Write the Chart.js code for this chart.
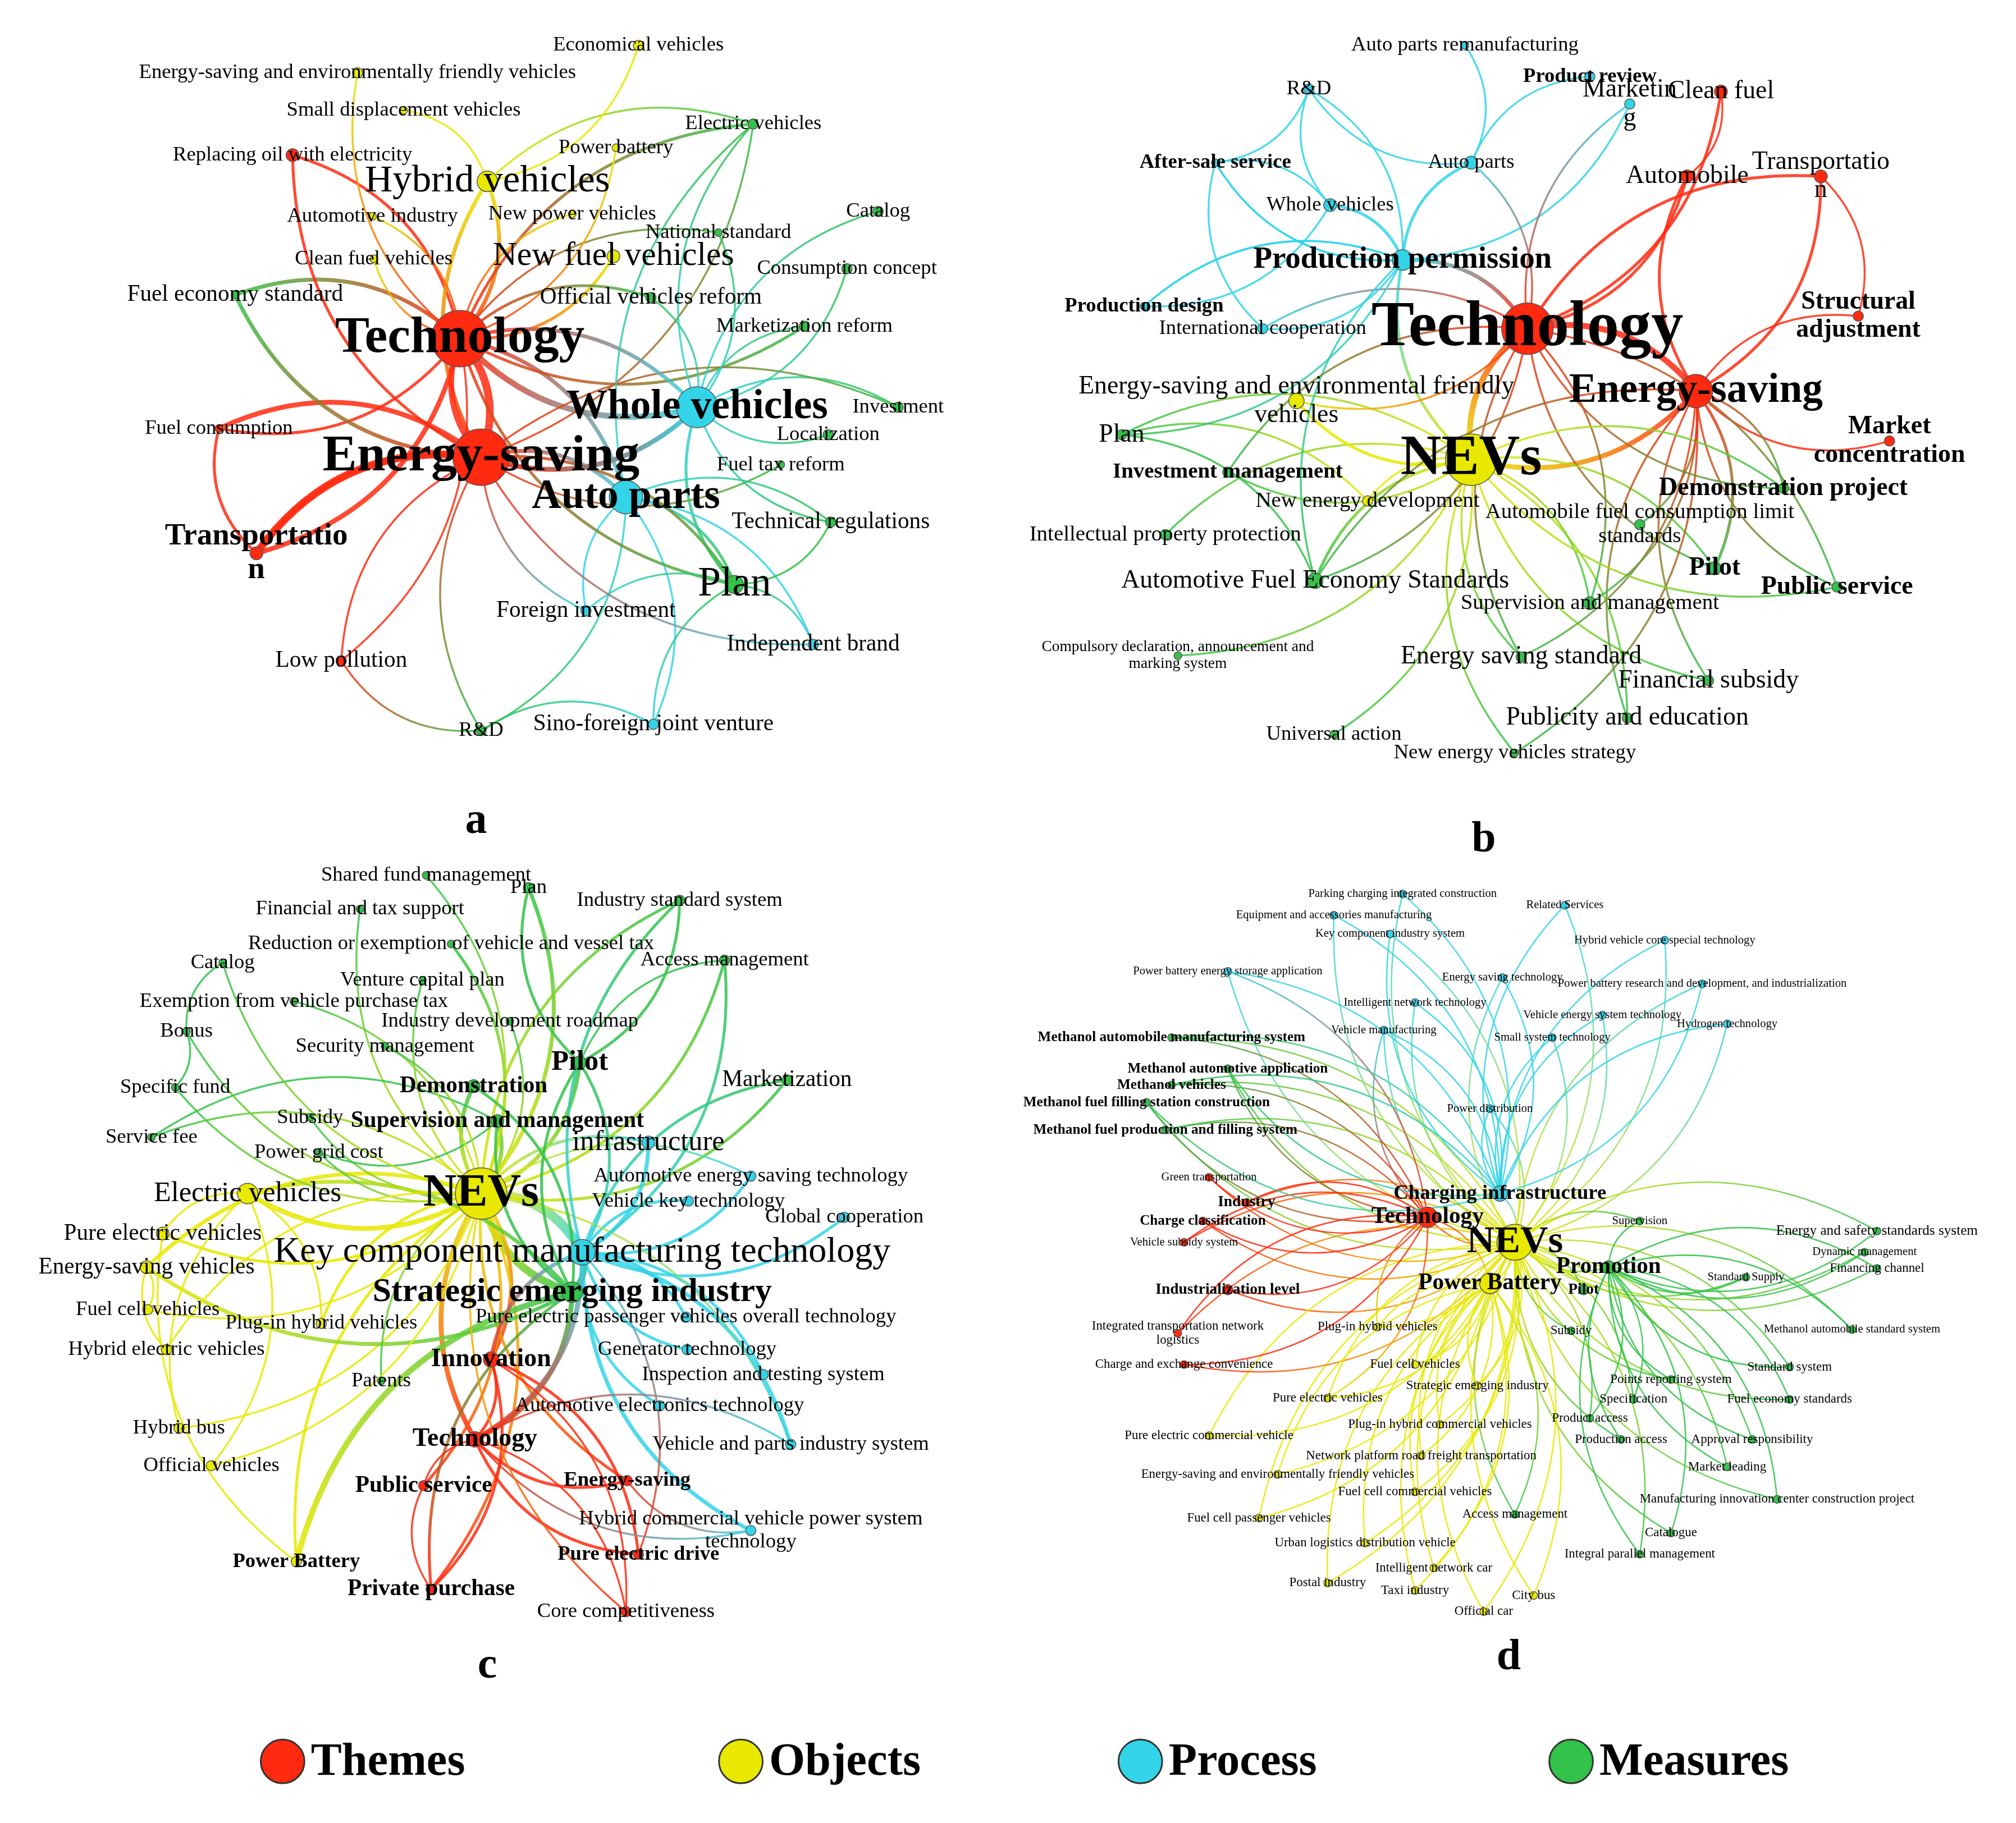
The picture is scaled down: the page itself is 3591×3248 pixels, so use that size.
<!DOCTYPE html>
<html><head><meta charset="utf-8">
<script src="https://cdn.jsdelivr.net/npm/chart.js@4"></script>
<style>html,body{margin:0;padding:0;background:#fff}#wrap{width:3591px;height:3248px}</style>
</head><body><div id="wrap"><canvas id="c"></canvas></div>
<script>
const categories = ["Themes","Objects","Process","Measures"];
const catKeys = ["T","O","P","M"];
const catColors = {T:"#ff2a10",O:"#e8e800",P:"#33d4e8",M:"#33c24a"};
const legendX = [233,600,920,1265];
// node: [label, x, y, category, size, fontSize, bold]
const nodesA = [
["Technology",345,248,"T",22,40,1],["Energy-saving",362,343,"T",22,40,1],["Whole vehicles",535,303,"P",16,32,1],
["Auto parts",478,375,"P",13,32,1],["Hybrid vehicles",367,122,"O",8,30,0],["New fuel vehicles",468,182,"O",5,26,0],
["Plan",565,445,"M",7,32,0],["Transportatio\nn",182,420,"T",5,24,1],["Replacing oil with electricity",211,101,"T",5,16,0],
["Low pollution",250,506,"T",4,18,0],["R&D",362,562,"M",4,16,0],["Economical vehicles",488,13,"O",4,16,0],
["Energy-saving and environmentally friendly vehicles",263,35,"O",4,16,0],["Small displacement vehicles",300,65,"O",3,16,0],
["Electric vehicles",580,76,"M",4,16,0],["Catalog",680,146,"M",4,16,0],["Consumption concept",655,192,"M",4,16,0],
["Investment",696,303,"M",4,16,0],["Localization",640,325,"M",4,16,0],["Fuel tax reform",602,349,"M",3,16,0],
["Technical regulations",642,395,"M",4,18,0],["Independent brand",628,493,"P",4,18,0],["Foreign investment",446,466,"P",4,18,0],
["Sino-foreign joint venture",500,557,"P",4,18,0],["Fuel consumption",152,320,"T",3,16,0],["Fuel economy standard",165,213,"M",3,18,0],
["Clean fuel vehicles",276,184,"O",3,16,0],["Automotive industry",275,150,"O",3,16,0],["New power vehicles",435,148,"O",3,16,0],
["National standard",552,163,"M",3,16,0],["Official vehicles reform",498,215,"M",4,18,0],["Marketization reform",621,238,"M",4,16,0],
["Power battery",470,95,"O",3,16,0]];
const edgesA = [[0,1,8],[0,2,6],[0,3,4],[1,2,5],[1,3,4],[1,7,8],[0,7,5],[1,24,5],[0,24,3],[0,25,4],[1,25,4],[0,8,3],[1,8,3],
[0,4,4],[1,4,4],[0,5,3],[0,30,3],[0,31,3],[0,14,3],[1,14,2],[0,29,2],[1,9,2],[0,9,2],[1,10,2],[3,10,2],[2,6,3],[3,6,3],
[2,18,2],[2,17,2],[2,20,2],[3,21,2],[3,22,2],[3,23,2],[6,20,2],[6,21,2],[6,23,2],[1,6,3],[0,6,3],[4,14,2],[4,11,2],[0,12,2],
[4,13,2],[2,15,2],[2,16,2],[0,26,2],[0,27,2],[0,28,2],[1,19,2],[2,31,2],[2,30,2],[1,17,2],[0,32,2],[7,24,3],[9,10,2],[2,14,2],[1,22,2],
[1,0,6],[1,7,6],[0,2,4],[1,2,4],[3,14,2],[2,29,2],[3,20,2],[6,22,2],[10,23,2],[1,21,2]];

const nodesB = [
["Technology",1200,240,"T",20,50,1],["Energy-saving",1335,290,"T",13,32,1],["NEVs",1155,345,"O",20,44,1],
["Production permission",1100,185,"P",8,24,1],["Automobile",1328,118,"T",5,20,0],["Transportatio\nn",1435,118,"T",5,20,0],
["Clean fuel",1355,50,"T",5,20,0],["Structural\nadjustment",1465,230,"T",4,20,1],["Market\nconcentration",1490,330,"T",4,20,1],
["Demonstration project",1405,368,"M",4,20,1],["Public service",1448,447,"M",4,20,1],["Pilot",1350,432,"M",5,20,1],
["Financial subsidy",1345,522,"M",4,20,0],["Publicity and education",1280,552,"M",4,20,0],["New energy vehicles strategy",1190,580,"M",3,16,0],
["Universal action",1045,565,"M",3,16,0],["Energy saving standard",1195,503,"M",4,20,0],["Supervision and management",1250,460,"M",5,17,0],
["Automotive Fuel Economy Standards",1030,442,"M",6,20,0],["Compulsory declaration, announcement and\nmarking system",920,502,"M",3,12,0],
["Intellectual property protection",910,405,"M",4,17,0],["Investment management",960,355,"M",4,17,1],["Plan",875,325,"M",4,20,0],
["Energy-saving and environmental friendly\nvehicles",1015,298,"O",6,20,0],["New energy development",1072,378,"O",4,17,0],
["Automobile fuel consumption limit\nstandards",1290,397,"M",4,17,0],["International cooperation",988,240,"P",4,16,0],
["Production design",893,222,"P",3,16,1],["After-sale service",950,107,"P",3,16,1],["Whole vehicles",1042,141,"P",5,16,0],
["Auto parts",1155,107,"P",5,16,0],["R&D",1025,48,"P",4,16,0],["Auto parts remanufacturing",1150,13,"P",3,16,0],
["Product review",1250,38,"P",4,16,1],["Marketin\ng",1282,60,"P",4,20,0]];
const edgesB = [[0,1,6],[0,2,6],[1,2,5],[0,3,4],[2,3,3],[0,4,3],[0,5,3],[0,6,3],[1,4,3],[1,5,3],[1,7,2],[1,8,2],[1,9,2],[1,10,2],
[1,11,3],[0,11,2],[2,11,2],[2,12,2],[2,13,2],[2,14,2],[2,15,2],[2,16,2],[2,17,2],[2,18,3],[2,19,2],[2,20,2],[2,21,2],[2,22,2],
[2,23,3],[2,24,2],[1,25,2],[0,26,2],[3,26,2],[3,27,2],[3,28,2],[3,29,3],[3,30,3],[29,28,2],[30,31,2],[30,32,2],[30,33,2],[3,34,2],
[0,34,2],[0,30,2],[1,16,2],[1,13,2],[0,18,2],[18,22,2],[22,24,2],[1,12,2],[0,23,2],[4,6,2],[5,7,2],[3,31,2],[1,14,2],[28,31,2],[29,31,2],
[3,27,2],[3,28,2],[28,26,2],[29,27,2],[3,18,2],[3,22,2],[0,9,2],[0,10,2],[0,16,2],[0,17,2],[0,21,2],[2,9,2],[2,10,2],[1,17,2],[1,18,2]];

const nodesC = [
["NEVs",362,933,"O",20,36,1],["Key component manufacturing technology",443,980,"P",10,28,0],["Strategic emerging industry",435,1012,"M",8,26,1],
["Innovation",370,1066,"T",6,20,1],["Technology",357,1130,"T",6,20,1],["Public service",316,1167,"T",4,18,1],
["Energy-saving",479,1163,"T",4,16,1],["Pure electric drive",488,1222,"T",4,16,1],["Core competitiveness",478,1268,"T",4,16,0],
["Private purchase",322,1250,"T",4,18,1],["Power Battery",214,1228,"O",4,16,1],["Electric vehicles",175,933,"O",8,22,0],
["Energy-saving vehicles",94,992,"O",5,18,0],["Pure electric vehicles",107,965,"O",5,18,0],["Fuel cell vehicles",95,1026,"O",4,16,0],
["Hybrid electric vehicles",110,1058,"O",4,16,0],["Plug-in hybrid vehicles",234,1037,"O",4,16,0],["Hybrid bus",120,1121,"O",4,16,0],
["Official vehicles",146,1151,"O",4,16,0],["Patents",282,1083,"M",3,16,0],["Pilot",441,828,"M",5,22,1],["Demonstration",356,847,"M",5,18,1],
["Supervision and management",375,875,"M",5,18,1],["infrastructure",496,892,"P",5,22,0],["Marketization",607,842,"M",4,18,0],
["Automotive energy saving technology",578,919,"P",4,16,0],["Vehicle key technology",528,939,"P",4,16,0],["Global cooperation",653,952,"P",4,16,0],
["Pure electric passenger vehicles overall technology",526,1032,"P",4,16,0],["Generator technology",527,1058,"P",4,16,0],
["Inspection and testing system",588,1078,"P",4,16,0],["Automotive electronics technology",505,1103,"P",4,16,0],
["Vehicle and parts industry system",610,1134,"P",4,16,0],["Hybrid commercial vehicle power system\ntechnology",578,1203,"P",4,16,0],
["Plan",400,688,"M",4,16,0],["Industry standard system",521,698,"M",4,16,0],["Access management",557,746,"M",4,16,0],
["Shared fund management",318,678,"M",3,16,0],["Financial and tax support",265,705,"M",3,16,0],
["Reduction or exemption of vehicle and vessel tax",338,733,"M",3,16,0],["Catalog",155,748,"M",3,16,0],["Venture capital plan",315,762,"M",3,16,0],
["Exemption from vehicle purchase tax",212,779,"M",3,16,0],["Industry development roadmap",385,795,"M",3,16,0],["Bonus",126,803,"M",3,16,0],
["Security management",285,815,"M",3,16,0],["Specific fund",117,848,"M",3,16,0],["Subsidy",225,872,"M",3,16,0],["Service fee",98,888,"M",3,16,0],
["Power grid cost",232,900,"M",3,16,0]];
const edgesC = [[0,1,10],[0,2,8],[0,3,4],[0,4,5],[0,5,3],[0,6,3],[0,9,3],[0,10,3],[0,11,5],[0,12,4],[0,13,3],[0,16,3],[0,17,2],
[0,20,4],[0,21,4],[0,22,4],[0,23,3],[0,24,3],[0,25,2],[0,34,4],[0,35,3],[0,36,3],[0,38,2],[0,39,3],[0,41,2],[0,43,2],[0,47,2],
[1,23,4],[1,24,3],[1,25,3],[1,26,3],[1,27,3],[1,28,3],[1,29,3],[1,30,3],[1,31,3],[1,32,4],[1,33,4],[1,2,6],[2,10,6],[2,4,5],
[2,11,4],[2,12,4],[2,9,3],[3,4,3],[4,7,3],[4,8,2],[4,6,3],[3,9,3],[11,13,2],[12,14,2],[12,15,2],[11,16,2],[11,17,2],[11,18,2],
[13,10,2],[44,46,2],[40,44,2],[20,34,3],[20,35,3],[20,36,2],[22,48,2],[22,49,2],[0,19,2],[3,7,3],[5,9,2],[1,7,2],[4,33,2],[0,32,2],
[0,8,2],[0,40,2],[0,42,2],[0,44,2],[0,45,2],[0,46,2],[0,48,2],[0,49,2],[0,37,2],[0,14,2],[0,15,2],[0,18,2],[2,1,6],
[1,4,5],[1,3,4],[2,20,3],[2,21,3],[2,22,3],[1,20,3],[1,35,3],[1,36,3],[4,32,2],[6,33,2],[3,8,2],[4,5,2]];

const nodesD = [
["NEVs",1190,972,"O",14,30,1],["Technology",1120,952,"T",8,18,1],["Charging infrastructure",1178,933,"P",6,16,1],
["Power Battery",1170,1005,"O",8,18,1],["Promotion",1265,992,"M",5,18,1],["Industrialization level",960,1010,"T",4,12,1],
["Industry",975,940,"T",3,12,1],["Charge classification",940,955,"T",3,11,1],["Methanol automobile manufacturing system",915,808,"M",3,11,1],
["Methanol automotive application",960,833,"M",3,11,1],["Methanol vehicles",915,846,"M",3,11,1],["Methanol fuel filling station construction",895,860,"M",3,11,1],
["Methanol fuel production and filling system",910,882,"M",3,11,1],["Energy and safety standards system",1480,963,"M",3,11,0],
["Financing channel",1480,993,"M",3,10,0],["Standard system",1410,1072,"M",3,10,0],["Fuel economy standards",1410,1098,"M",3,10,0],
["Approval responsibility",1380,1130,"M",3,10,0],["Manufacturing innovation center construction project",1400,1178,"M",3,10,0],
["Market leading",1360,1152,"M",3,10,0],["Catalogue",1315,1205,"M",3,10,0],["Integral parallel management",1290,1222,"M",3,10,0],
["City bus",1205,1255,"O",3,10,0],["Official car",1165,1268,"O",3,10,0],["Taxi industry",1110,1251,"O",3,10,0],
["Postal industry",1040,1245,"O",3,10,0],["Intelligent network car",1125,1233,"O",3,10,0],["Urban logistics distribution vehicle",1070,1213,"O",3,10,0],
["Fuel cell passenger vehicles",985,1193,"O",3,10,0],["Energy-saving and environmentally friendly vehicles",1000,1158,"O",3,10,0],
["Pure electric commercial vehicle",945,1127,"O",3,10,0],["Charge and exchange convenience",925,1070,"T",3,10,0],
["Integrated transportation network\nlogistics",920,1045,"T",3,10,0],["Plug-in hybrid vehicles",1080,1040,"O",3,10,0],
["Fuel cell vehicles",1110,1070,"O",3,10,0],["Strategic emerging industry",1160,1087,"O",3,10,0],["Pure electric vehicles",1040,1097,"O",3,10,0],
["Plug-in hybrid commercial vehicles",1130,1118,"O",3,10,0],["Network platform road freight transportation",1115,1143,"O",3,10,0],
["Fuel cell commercial vehicles",1110,1172,"O",3,10,0],["Access management",1190,1190,"M",3,10,0],["Product access",1250,1113,"M",3,10,0],
["Production access",1275,1130,"M",3,10,0],["Specification",1285,1098,"M",3,10,0],["Points reporting system",1315,1082,"M",3,10,0],
["Pilot",1245,1010,"M",4,12,1],["Subsidy",1235,1043,"M",3,10,0],["Parking charging integrated construction",1100,693,"P",3,9,0],
["Related Services",1230,702,"P",3,9,0],["Equipment and accessories manufacturing",1045,710,"P",3,9,0],["Key component industry system",1090,725,"P",3,9,0],
["Power battery energy storage application",960,755,"P",3,9,0],["Hybrid vehicle core special technology",1310,730,"P",3,9,0],
["Power battery research and development, and industrialization",1340,765,"P",3,9,0],["Vehicle energy system technology",1260,790,"P",3,9,0],
["Vehicle manufacturing",1085,802,"P",3,9,0],["Hydrogen technology",1360,797,"P",3,9,0],["Intelligent network technology",1110,780,"P",3,9,0],
["Small system technology",1220,808,"P",3,9,0],["Energy saving technology",1180,760,"P",3,9,0],["Power distribution",1170,865,"P",3,9,0],
["Supervision",1290,955,"M",3,9,0],["Standard Supply",1375,1000,"M",3,9,0],["Methanol automobile standard system",1460,1042,"M",3,9,0],
["Dynamic management",1470,980,"M",3,9,0],["Green transportation",945,920,"T",3,9,0],["Vehicle subsidy system",925,972,"T",3,9,0]];
// adjacency lists: [hub, neighbours, width]
const adjD = [
[0,[1,2,3,4,5,6,7,8,9,10,11,12,13,14,15,16,17,18,19,20,21,22,23,24,25,26,27,28,29,30,31,32,33,34,35,36,37,38,39,40,41,42,43,44,45,46,47,48,49,50,51,52,53,54,55,56,57,58,59,60,61,62,63,64,65,66],1.5],
[1,[5,6,7,8,9,10,11,12,31,32,65,66,3,33,36,51,55],1.5],
[2,[47,48,49,50,51,52,53,54,55,56,57,58,59,60,8,9,10,11],1.5],
[4,[13,14,15,16,17,18,19,20,21,61,62,63,64,43,44,41,42],1.5],
[3,[22,23,24,25,26,27,28,29,30,33,34,35,36,37,38,39,40],1.5]];
const panelLetters = [["a",358,635],["b",1165,650],["c",367,1312],["d",1185,1305]];

const K = 3591/1568;
const panels = [[nodesA,edgesA],[nodesB,edgesB],[nodesC,edgesC],[nodesD,[]]];
adjD.forEach(([h,ns,w])=>ns.forEach(n=>panels[3][1].push([h,n,w])));

const datasets = catKeys.map((k,i)=>({
  label: categories[i],
  data: panels.flatMap(p=>p[0].filter(n=>n[3]===k).map(n=>({x:n[1],y:n[2],r:n[4]}))),
  backgroundColor: catColors[k], borderColor:"#555", borderWidth:1.5,
  pointRadius: c=>c.raw? c.raw.r*K : 30, pointHoverRadius: c=>c.raw? c.raw.r*K : 30
}));

function hexA(h,a){const v=parseInt(h.slice(1),16);return `rgba(${v>>16},${(v>>8)&255},${v&255},${a})`;}

const edgePlugin = {id:"edges", beforeDatasetsDraw(chart){
  const ctx=chart.ctx, xs=chart.scales.x, ys=chart.scales.y;
  ctx.save();
  panels.forEach(([nodes,edges])=>{
    edges.forEach(([a,b,w],i)=>{
      const A=nodes[a],B=nodes[b];
      const x1=xs.getPixelForValue(A[1]),y1=ys.getPixelForValue(A[2]),x2=xs.getPixelForValue(B[1]),y2=ys.getPixelForValue(B[2]);
      const mx=(x1+x2)/2,my=(y1+y2)/2,dx=x2-x1,dy=y2-y1;
      const s=(i%2?0.3:-0.3);
      const cx=mx-dy*s,cy=my+dx*s;
      const g=ctx.createLinearGradient(x1,y1,x2,y2);
      g.addColorStop(0,hexA(catColors[A[3]],0.85));g.addColorStop(1,hexA(catColors[B[3]],0.85));
      ctx.strokeStyle=g;ctx.lineWidth=w*K*0.75;
      ctx.beginPath();ctx.moveTo(x1,y1);ctx.quadraticCurveTo(cx,cy,x2,y2);ctx.stroke();
    });
  });
  ctx.restore();
}};
const labelPlugin = {id:"labels", afterDatasetsDraw(chart){
  const ctx=chart.ctx, xs=chart.scales.x, ys=chart.scales.y;
  ctx.save();ctx.fillStyle="#000";ctx.textAlign="center";ctx.textBaseline="middle";
  panels.forEach(([nodes])=>nodes.forEach(n=>{
    const fs=n[5]*K;
    ctx.font=(n[6]?"bold ":"")+fs+"px 'Liberation Serif'";
    const lines=n[0].split("\n");
    lines.forEach((t,j)=>ctx.fillText(t,xs.getPixelForValue(n[1]),ys.getPixelForValue(n[2])+(j-(lines.length-1)/2)*fs*1.1));
  }));
  ctx.font="bold "+(34*K)+"px 'Liberation Serif'";
  panelLetters.forEach(([t,x,y])=>ctx.fillText(t,xs.getPixelForValue(x),ys.getPixelForValue(y)));
  // legend
  ctx.textAlign="left";ctx.font="bold "+(36*K)+"px 'Liberation Serif'";
  categories.forEach((c,i)=>{
    const px=xs.getPixelForValue(legendX[i]-30), py=ys.getPixelForValue(1388);
    ctx.beginPath();ctx.arc(px,py,17*K,0,Math.PI*2);ctx.fillStyle=catColors[catKeys[i]];ctx.fill();
    ctx.lineWidth=3;ctx.strokeStyle="#333";ctx.stroke();
    ctx.fillStyle="#000";ctx.fillText(c,px+22*K,py+2);
  });
  ctx.restore();
}};

Chart.defaults.devicePixelRatio=1;
new Chart(document.getElementById("c"),{
  type:"scatter",
  data:{datasets},
  options:{responsive:true,maintainAspectRatio:false,animation:false,
    layout:{padding:0},
    scales:{x:{display:false,min:0,max:1568},y:{display:false,min:0,max:1414,reverse:true}},
    plugins:{tooltip:{enabled:false},legend:{display:false}}},
  plugins:[edgePlugin,labelPlugin]
});
</script></body></html>
